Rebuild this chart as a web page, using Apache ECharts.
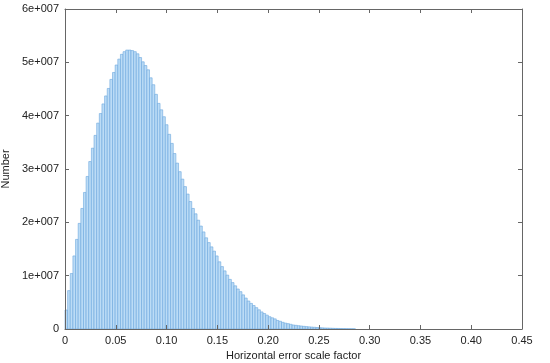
<!DOCTYPE html>
<html>
<head>
<meta charset="utf-8">
<script src="https://cdn.jsdelivr.net/npm/echarts@6/dist/echarts.min.js"></script>
<style>html,body{margin:0;padding:0;background:#fff}#c{width:550px;height:363px}</style>
</head>
<body>
<div id="c"></div>
<script>
var binWidth = 0.0026;
var counts = [
 0.356,0.72,1.04,1.37,1.68,1.98,2.26,2.56,2.86,3.14,
 3.39,3.63,3.86,4.04,4.22,4.37,4.51,4.68,4.81,4.95,
 5.06,5.15,5.20,5.23,5.23,5.22,5.20,5.16,5.09,5.01,
 4.94,4.86,4.71,4.58,4.40,4.23,4.11,3.98,3.83,3.65,
 3.48,3.29,3.11,2.95,2.81,2.67,2.53,2.39,2.26,2.16,
 2.04,1.93,1.82,1.71,1.62,1.54,1.46,1.37,1.26,1.17,
 1.09,1.01,0.93,0.87,0.81,0.75,0.70,0.64,0.58,0.525,
 0.48,0.44,0.40,0.36,0.32,0.29,0.26,0.23,0.21,0.19,
 0.16,0.145,0.125,0.11,0.10,0.088,0.075,0.069,0.062,0.056,
 0.05,0.045,0.04,0.036,0.032,0.028,0.025,0.022,0.019,0.017,
 0.015,0.013,0.011,0.010,0.008,0.007,0.006,0.005,0.004,0.003
].map(function(v){return v*1e7;});
var xTicks = [0,0.05,0.10,0.15,0.20,0.25,0.30,0.35,0.40,0.45];
var yTicks = [0,1e7,2e7,3e7,4e7,5e7,6e7];
var xTitle = 'Horizontal error scale factor';
var yTitle = 'Number';

var data = counts.map(function(c,i){return [i*binWidth,(i+1)*binWidth,c];});
var font = 'Liberation Sans, Arial, sans-serif';
var axisLine = {show:true,onZero:false,lineStyle:{color:'#666',width:1}};
var tick = {show:true,inside:true,length:4,lineStyle:{color:'#666'}};
var chart = echarts.init(document.getElementById('c'));
chart.setOption({
  animation:false,
  grid:{left:65,right:28,top:9,bottom:34,containLabel:false,outerBoundsMode:'none'},
  xAxis:[{
    type:'value',min:0,max:0.45,interval:0.05,z:10,
    axisLine:axisLine,axisTick:tick,splitLine:{show:false},
    axisLabel:{margin:6,color:'#222',fontFamily:font,fontSize:11,
      formatter:function(v){return v===0?'0':v.toFixed(2);}},
    name:xTitle,nameLocation:'middle',nameGap:18,
    nameTextStyle:{color:'#222',fontFamily:font,fontSize:11}
  },{
    type:'value',position:'top',min:0,max:0.45,interval:0.05,z:10,
    axisLine:axisLine,axisTick:tick,axisLabel:{show:false},splitLine:{show:false}
  }],
  yAxis:[{
    type:'value',min:0,max:6e7,interval:1e7,z:10,
    axisLine:axisLine,axisTick:tick,splitLine:{show:false},
    axisLabel:{margin:6,color:'#222',fontFamily:font,fontSize:11,
      formatter:function(v){return v===0?'0':(v/1e7)+'e+007';}},
    name:yTitle,nameLocation:'middle',nameGap:52,
    nameTextStyle:{color:'#222',fontFamily:font,fontSize:11}
  },{
    type:'value',position:'right',min:0,max:6e7,interval:1e7,z:10,
    axisLine:axisLine,axisTick:tick,axisLabel:{show:false},splitLine:{show:false}
  }],
  series:[{
    type:'custom',
    data:data,
    encode:{x:[0,1],y:2},
    renderItem:function(params,api){
      var p0 = api.coord([api.value(0),api.value(2)]);
      var p1 = api.coord([api.value(1),0]);
      return {type:'rect',
        shape:{x:p0[0],y:p0[1],width:p1[0]-p0[0],height:p1[1]-p0[1]},
        style:{fill:'#bcdcf6',stroke:'#6aa6de',lineWidth:0.6}};
    }
  }]
});
</script>
</body>
</html>
